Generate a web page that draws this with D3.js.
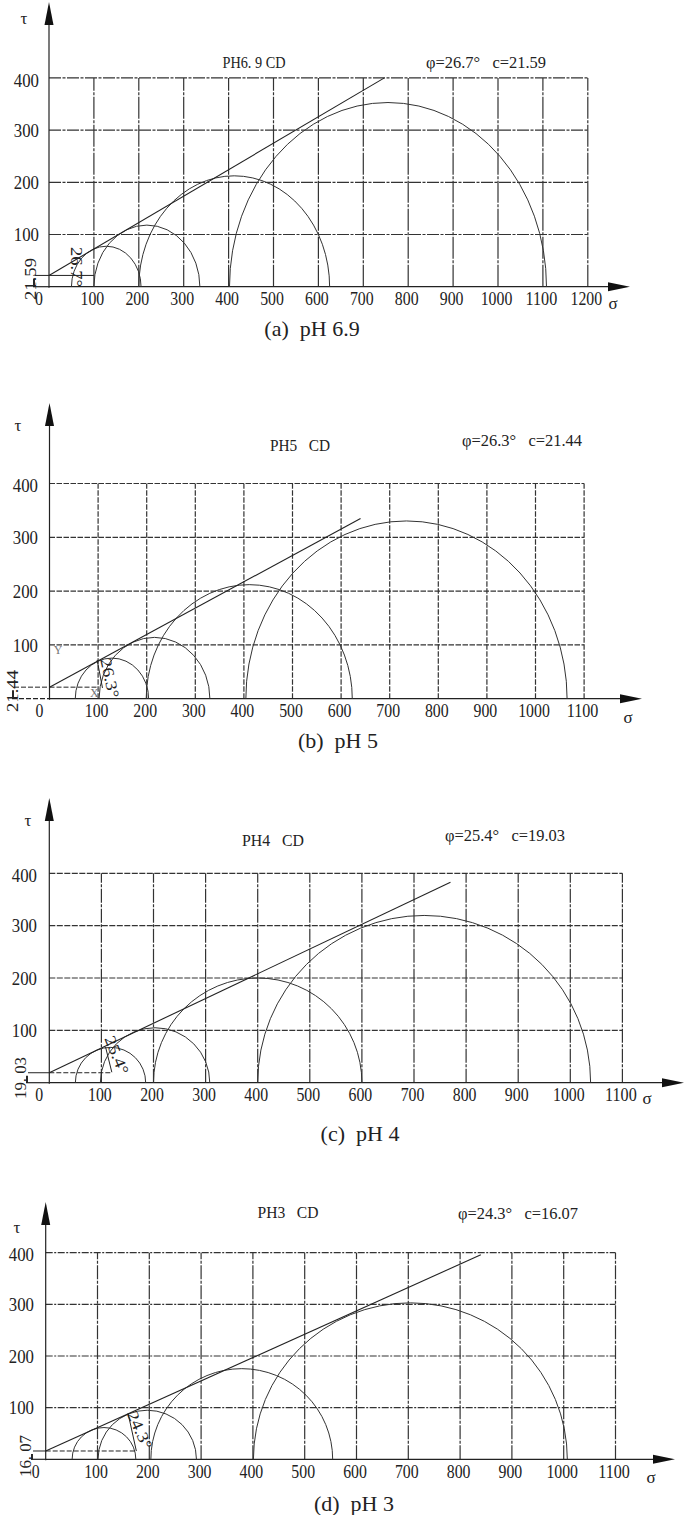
<!DOCTYPE html>
<html>
<head>
<meta charset="utf-8">
<script src="https://cdn.jsdelivr.net/npm/d3@7"></script>
<style>
  html, body { margin: 0; padding: 0; background: #fff; }
  svg { display: block; }
  text { font-family: "Liberation Serif", "Times New Roman", serif; fill: #222; white-space: pre; }
</style>
</head>
<body>
<svg id="chart" width="685" height="1515"></svg>
<script>
// ---- data ----
const PANEL_IDS = ['a', 'b', 'c', 'd'];
const PH = ['6.9', '5', '4', '3'];
const TITLES = ['PH6. 9 CD', 'PH5   CD', 'PH4   CD', 'PH3   CD'];
const PHI = [26.7, 26.3, 25.4, 24.3];
const COH = [21.59, 21.44, 19.03, 16.07];
const COH_LABELS = ['21.59', '21.44', '19. 03', '16. 07'];

const X_TICKS_A = [0, 100, 200, 300, 400, 500, 600, 700, 800, 900, 1000, 1100, 1200];
const X_TICKS = [0, 100, 200, 300, 400, 500, 600, 700, 800, 900, 1000, 1100];
const Y_TICKS = [100, 200, 300, 400];

// [sigma3, sigma1] of each circle
const CIRCLES_A = [[50, 205], [100, 336], [200, 625], [402, 1108]];
const CIRCLES_B = [[53, 204], [102, 330], [199, 623], [404, 1065]];
const CIRCLES_C = [[50, 185], [98, 308], [200, 600], [400, 1039]];
const CIRCLES_D = [[51, 174], [101, 291], [203, 554], [401, 1007]];

// strength envelope end points [sigma, tau]
const ENVELOPE_A = [[0, 21.59], [747, 400]];
const ENVELOPE_B = [[0, 21.44], [640, 335]];
const ENVELOPE_C = [[0, 19.03], [770, 383]];
const ENVELOPE_D = [[0, 16.07], [840, 396]];

// where the horizontal c line stops (sigma)
const C_LINE_END = [100, 100, 120, 175];
// short angle dimension line [sigma, tau] pairs
const ANGLE_DIM = [null, [[98, 72], [109, 20]], [[108, 68], [120, 20]], [[159, 89], [175, 16]]];

const CIRCLES = [CIRCLES_A, CIRCLES_B, CIRCLES_C, CIRCLES_D];
const ENVELOPES = [ENVELOPE_A, ENVELOPE_B, ENVELOPE_C, ENVELOPE_D];
const XTICKS = [X_TICKS_A, X_TICKS, X_TICKS, X_TICKS];

// ---- layout (pixels) ----
const LAYOUT = [
  { x0: 49, kx: 0.449, y0: 286.7, ky: 0.522, xMax: 1200, xFrom: 33, xTip: 630, yTip: 2,
    hDash: '12 1.5 3 1.5', vDash: '22 1.5 3 1.5', cDash: null, leftDash: null,
    tau: [24, 18], title: [254, 62], titleW: 63, phi: [426, 62], cap: [312, 328], sig: [613, 303],
    yLab: 39, coh: [30, 279], angle: [77, 267, 90] },
  { x0: 49.5, kx: 0.486, y0: 698.7, ky: 0.538, xMax: 1100, xFrom: 12, xTip: 642, yTip: 403,
    hDash: '5.5 1.5', vDash: '5.5 1.5', cDash: '5 2', leftDash: '5 2',
    tau: [18, 425], title: [300, 445], titleW: 60, phi: [462, 440], cap: [338, 740], sig: [628, 717],
    yLab: 38, coh: [12, 691], angle: [110, 678, 78] },
  { x0: 49.3, kx: 0.521, y0: 1082.7, ky: 0.5235, xMax: 1100, xFrom: 26, xTip: 684, yTip: 798,
    hDash: '6 1.5', vDash: '14 1.5 3 1.5', cDash: '5 2', leftDash: null,
    tau: [28, 820], title: [273, 840], titleW: 62, phi: [445, 835], cap: [360, 1133], sig: [647, 1098],
    yLab: 37, coh: [20, 1078], angle: [117, 1055, 68] },
  { x0: 45.7, kx: 0.518, y0: 1459.3, ky: 0.5165, xMax: 1100, xFrom: 31, xTip: 675, yTip: 1202,
    hDash: '7 1.5 2 1.5', vDash: '14 1.5 3 1.5', cDash: '5 2', leftDash: null,
    tau: [17, 1227], title: [288, 1212], titleW: 61, phi: [458, 1213], cap: [354, 1503], sig: [651, 1477],
    yLab: 34, coh: [25, 1456], angle: [140, 1430, 66] }
];

const svg = d3.select('#chart');
svg.append('rect').attr('width', 685).attr('height', 1515).attr('fill', '#fff');

PANEL_IDS.forEach((id, i) => {
  const L = LAYOUT[i];
  const g = svg.append('g').attr('class', 'panel-' + id);

  const x = d3.scaleLinear().domain([0, 100]).range([L.x0, L.x0 + 100 * L.kx]);
  const y = d3.scaleLinear().domain([0, 100]).range([L.y0, L.y0 - 100 * L.ky]);
  const ticks = XTICKS[i];
  const yTop = d3.max(Y_TICKS);

  // grid
  g.append('g').selectAll('line').data(Y_TICKS).join('line')
    .attr('x1', x(0)).attr('x2', x(L.xMax))
    .attr('y1', d => y(d)).attr('y2', d => y(d))
    .attr('stroke', '#333').attr('stroke-width', 1.2)
    .attr('stroke-dasharray', L.hDash);
  g.append('g').selectAll('line').data(ticks.filter(d => d > 0)).join('line')
    .attr('x1', d => x(d)).attr('x2', d => x(d))
    .attr('y1', y(0)).attr('y2', y(yTop))
    .attr('stroke', '#333').attr('stroke-width', 1.2)
    .attr('stroke-dasharray', L.vDash);

  // axes
  g.append('line').attr('x1', L.xFrom).attr('x2', x(0)).attr('y1', y(0)).attr('y2', y(0))
    .attr('stroke', '#222').attr('stroke-width', 1.2).attr('stroke-dasharray', L.leftDash);
  g.append('line').attr('x1', x(0)).attr('x2', L.xTip - 10).attr('y1', y(0)).attr('y2', y(0))
    .attr('stroke', '#222').attr('stroke-width', 1.2);
  g.append('path')
    .attr('d', `M${L.xTip - 22},${y(0) - 4.5} L${L.xTip},${y(0)} L${L.xTip - 22},${y(0) + 4.5} Z`)
    .attr('fill', '#111');
  g.append('line').attr('x1', x(0)).attr('x2', x(0)).attr('y1', y(0) + 1).attr('y2', L.yTip + 10)
    .attr('stroke', '#222').attr('stroke-width', 1.2);
  g.append('path')
    .attr('d', `M${x(0) - 4.5},${L.yTip + 23} L${x(0)},${L.yTip} L${x(0) + 4.5},${L.yTip + 23} Z`)
    .attr('fill', '#111');

  // tick labels
  g.append('g').selectAll('text').data(ticks).join('text')
    .attr('x', d => d === 0 ? x(0) - 10 : x(d) - 1.5)
    .attr('y', y(0) + 12).attr('dy', '0.35em')
    .attr('text-anchor', 'middle')
    .attr('font-size', 19)
    .attr('textLength', d => String(d).length * 7.9).attr('lengthAdjust', 'spacingAndGlyphs')
    .text(d => d);
  g.append('g').selectAll('text').data(Y_TICKS).join('text')
    .attr('x', L.yLab).attr('y', d => y(d) + (d === yTop ? 2 : 0)).attr('dy', '0.35em')
    .attr('text-anchor', 'end')
    .attr('font-size', 19)
    .attr('textLength', d => String(d).length * 8.4).attr('lengthAdjust', 'spacingAndGlyphs')
    .text(d => d);

  // axis names
  g.append('text').attr('x', L.tau[0]).attr('y', L.tau[1]).attr('dy', '0.35em')
    .attr('text-anchor', 'middle').attr('font-size', 17).text('τ');
  g.append('text').attr('x', L.sig[0]).attr('y', L.sig[1]).attr('dy', '0.35em')
    .attr('text-anchor', 'middle').attr('font-size', 17).text('σ');

  // Mohr circles (ellipses because of unequal axis scales)
  g.append('g').selectAll('path').data(CIRCLES[i]).join('path')
    .attr('d', d => {
      const r = (d[1] - d[0]) / 2;
      const rx = x(r) - x(0), ry = y(0) - y(r);
      return `M${x(d[0])},${y(0)} A${rx},${ry} 0 0 1 ${x(d[1])},${y(0)}`;
    })
    .attr('fill', 'none').attr('stroke', '#333').attr('stroke-width', 1);

  // strength envelope
  g.append('path').datum(ENVELOPES[i])
    .attr('d', d3.line().x(d => x(d[0])).y(d => y(d[1])))
    .attr('fill', 'none').attr('stroke', '#222').attr('stroke-width', 1.1);

  // cohesion line + dimension
  const cY = y(COH[i]);
  g.append('line').attr('x1', L.xFrom + 2).attr('x2', x(0)).attr('y1', cY).attr('y2', cY)
    .attr('stroke', '#222').attr('stroke-width', 1).attr('stroke-dasharray', L.leftDash);
  g.append('line').attr('x1', x(0)).attr('x2', x(C_LINE_END[i])).attr('y1', cY).attr('y2', cY)
    .attr('stroke', '#222').attr('stroke-width', 1).attr('stroke-dasharray', L.cDash);
  g.append('line').attr('x1', L.xFrom + 1).attr('x2', L.xFrom + 1).attr('y1', y(0)).attr('y2', cY + 3)
    .attr('stroke', '#111').attr('stroke-width', 1.8);
  g.append('text')
    .attr('transform', `translate(${L.coh[0]},${L.coh[1]}) rotate(-90)`)
    .attr('dy', '0.35em').attr('text-anchor', 'middle').attr('font-size', 16)
    .attr('textLength', 42).attr('lengthAdjust', 'spacingAndGlyphs')
    .text(COH_LABELS[i]);

  if (ANGLE_DIM[i]) {
    g.append('path').datum(ANGLE_DIM[i])
      .attr('d', d3.line().x(d => x(d[0])).y(d => y(d[1])))
      .attr('fill', 'none').attr('stroke', '#222').attr('stroke-width', 1);
  }
  g.append('text')
    .attr('transform', `translate(${L.angle[0]},${L.angle[1]}) rotate(${L.angle[2]})`)
    .attr('dy', '0.35em').attr('text-anchor', 'middle').attr('font-size', 16)
    .attr('textLength', 40).attr('lengthAdjust', 'spacingAndGlyphs')
    .text(PHI[i] + '°');

  if (id === 'b') {
    g.append('text').attr('x', x(9)).attr('y', y(90)).attr('dy', '0.35em')
      .attr('font-size', 12).style('fill', '#777').text('Y');
    g.append('text').attr('x', x(92)).attr('y', y(11)).attr('dy', '0.35em')
      .attr('text-anchor', 'middle').attr('font-size', 12).style('fill', '#777').text('X');
  }

  // titles
  g.append('text').attr('x', L.title[0]).attr('y', L.title[1]).attr('dy', '0.35em')
    .attr('text-anchor', 'middle').attr('font-size', 16)
    .attr('textLength', L.titleW).attr('lengthAdjust', 'spacingAndGlyphs')
    .text(TITLES[i]);
  g.append('text').attr('x', L.phi[0]).attr('y', L.phi[1]).attr('dy', '0.35em')
    .attr('font-size', 17)
    .attr('textLength', 120).attr('lengthAdjust', 'spacingAndGlyphs')
    .text(`φ=${PHI[i]}°   c=${COH[i].toFixed(2)}`);
  g.append('text').attr('x', L.cap[0]).attr('y', L.cap[1]).attr('dy', '0.35em')
    .attr('text-anchor', 'middle').attr('font-size', 22)
    .text(`(${id})  pH ${PH[i]}`);
});
</script>
</body>
</html>
